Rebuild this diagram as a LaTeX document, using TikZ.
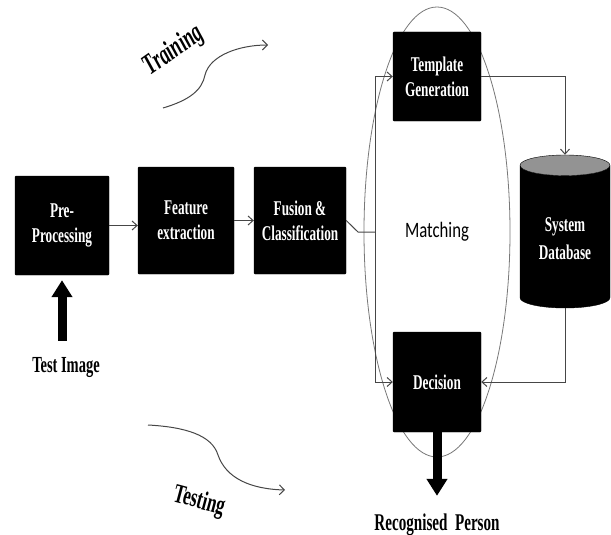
\documentclass[tikz,border=0pt]{standalone}
\usepackage{fontspec}
\usepackage{tikz}
\usetikzlibrary{arrows.meta,shapes.geometric}
\newfontfamily\diagfont[FakeStretch=0.63]{Liberation Serif}
\newfontfamily\matchfont[FakeStretch=0.76]{Carlito}
\definecolor{flowline}{RGB}{70,70,70}
\definecolor{ringline}{RGB}{120,120,120}
\tikzset{
  stagebox/.style={rectangle,fill=black,draw=black,rounded corners=1pt,
    text=white,align=center,inner sep=2pt,
    font=\diagfont\bfseries\fontsize{21}{25}\selectfont},
  dbcyl/.style={cylinder,shape border rotate=90,aspect=0.35,draw=black,
    cylinder uses custom fill,cylinder body fill=black,
    cylinder end fill=gray!85!white,minimum width=90,minimum height=153,
    anchor=shape center,text=white,align=center,
    font=\diagfont\bfseries\fontsize{21}{28}\selectfont},
  ring/.style={ellipse,draw=ringline,line width=0.8pt,minimum width=146,
    minimum height=450,font=\matchfont\fontsize{22}{26}\selectfont},
  flow/.style={-{Straight Barb[length=5pt,width=9pt]},flowline,line width=1pt},
  flowplain/.style={flowline,line width=1pt},
  bigarrow/.style={-{Triangle[width=20pt,length=17pt]},line width=9pt,black},
  curvearrow/.style={-{Straight Barb[length=5pt,width=10pt]},flowline,line width=1pt},
  caption/.style={inner sep=0pt,font=\diagfont\bfseries\fontsize{23}{26}\selectfont}
}
\begin{document}
\begin{tikzpicture}[x=1pt,y=-1pt]
  \useasboundingbox (0,0) rectangle (611,535);
  \node[ring] (match) at (437,232) {Matching};
  \node[stagebox,minimum width=94,minimum height=99] (pre) at (62,225.5) {Pre-\\Processing};
  \node[stagebox,minimum width=96,minimum height=107] (feat) at (186,220.5) {Feature\\extraction};
  \node[stagebox,minimum width=92,minimum height=107] (fusion) at (300,220.5) {Fusion \&\\Classification};
  \node[stagebox,minimum width=88,minimum height=89] (templ) at (437,76.5) {Template\\Generation};
  \node[stagebox,minimum width=88,minimum height=100] (dec) at (437,382) {Decision};
  \node[dbcyl] (db) at (565,231.5) {System\\Database};
  \node[caption] (testimg) at (66,368) {Test Image};
  \node[caption,font=\diagfont\bfseries\fontsize{24}{26}\selectfont] (recog) at (437,525) {Recognised\ \ Person};
  \node[caption,font=\diagfont\bfseries\itshape\fontsize{29}{30}\selectfont,rotate=35] (train) at (174,51) {Training};
  \node[caption,font=\diagfont\bfseries\fontsize{27}{30}\selectfont,rotate=-15] (test) at (199,502) {Testing};
  \coordinate (bend) at (358,232);
  \coordinate (split) at (375,232);
  \coordinate (trainA) at (163,108);
  \coordinate (trainB) at (205,75);
  \coordinate (trainC) at (268,45);
  \coordinate (testA) at (148,425);
  \coordinate (testB) at (218,455);
  \coordinate (testC) at (285,490);
  \draw[flow] (pre) -- (feat.west |- pre);
  \draw[flow] (feat) -- (fusion);
  \draw[flowplain] (fusion.east) -- (bend) -- (split);
  \draw[flow] (split) |- (templ.west);
  \draw[flow] (split) |- (dec.west);
  \draw[flow] (templ.east) -| (db);
  \draw[flow] (db) |- (dec.east);
  \draw[bigarrow,shorten <=17pt,shorten >=5pt] (testimg.north -| pre.south) -- (pre.south);
  \draw[bigarrow,shorten >=18pt] (dec.south) -- (recog.north);
  \draw[curvearrow] (trainA) .. controls (190,100) and (202,90) .. (trainB)
    .. controls (210,55) and (240,45) .. (trainC);
  \draw[curvearrow] (testA) .. controls (185,427) and (212,435) .. (testB)
    .. controls (226,478) and (250,489) .. (testC);
\end{tikzpicture}
\end{document}
